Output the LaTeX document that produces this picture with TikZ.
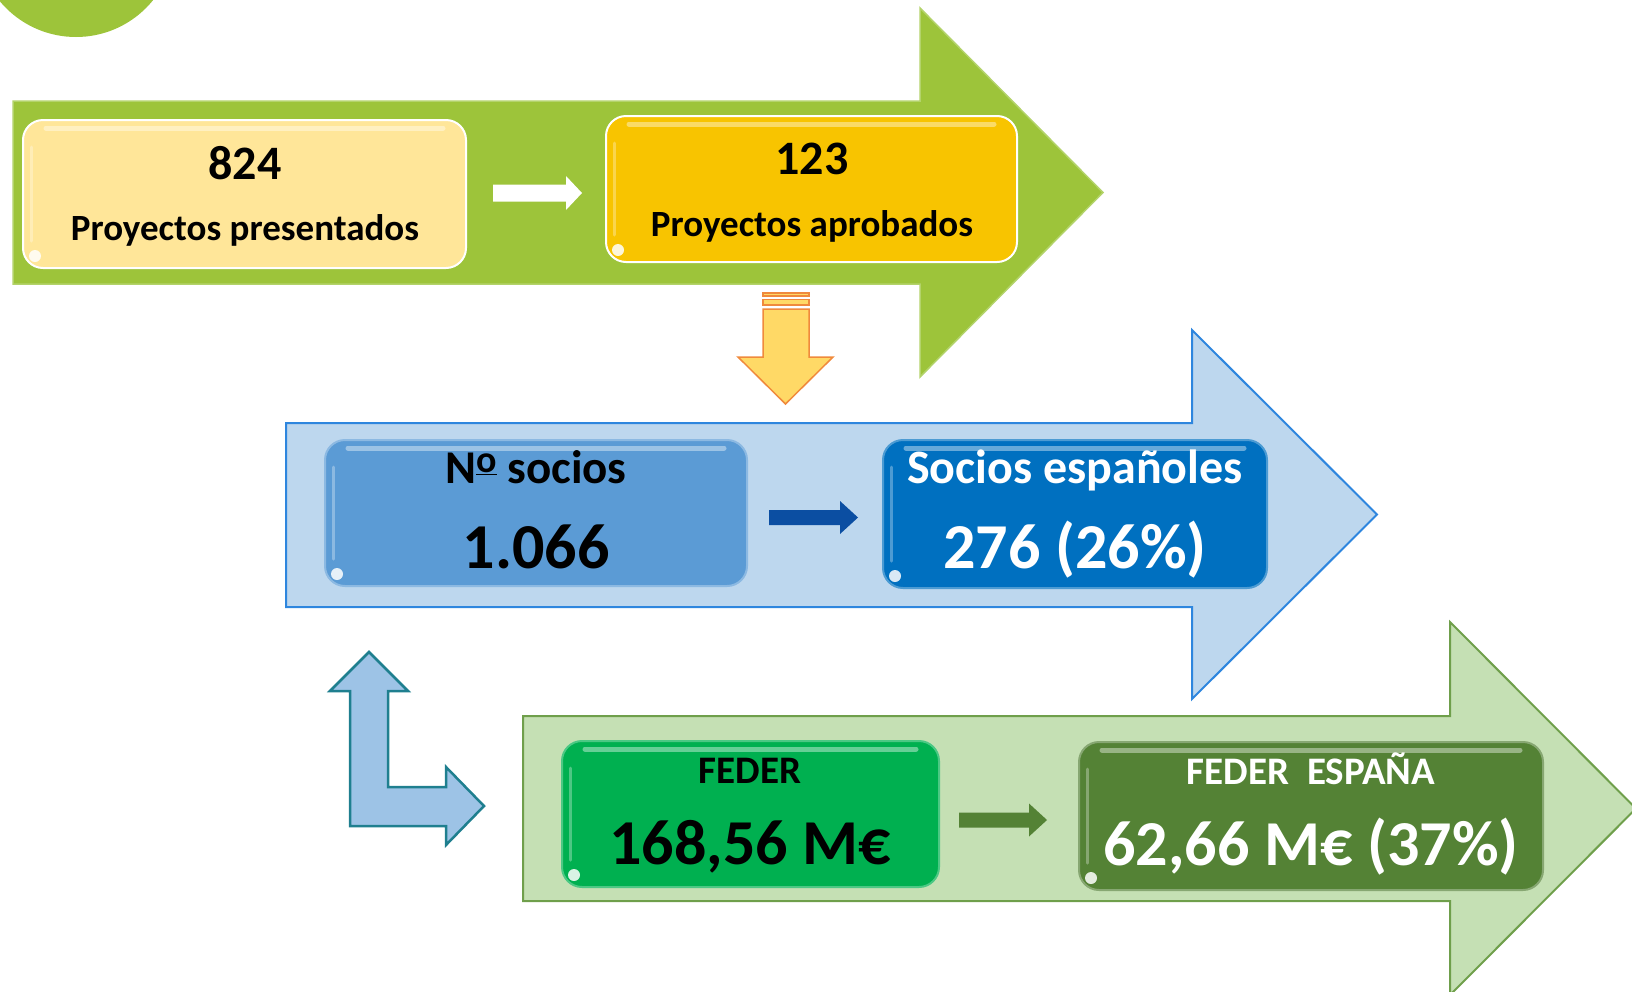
\documentclass[tikz,border=0pt]{standalone}
\usepackage{fontspec}
\setmainfont{Carlito}
\usetikzlibrary{calc}
\definecolor{topgreen}{HTML}{9DC43A}
\definecolor{topgreenedge}{HTML}{B3D36A}
\definecolor{midblue}{HTML}{BDD7EE}
\definecolor{midblueedge}{HTML}{2E86DE}
\definecolor{botgreen}{HTML}{C5E0B4}
\definecolor{botgreenedge}{HTML}{6F9F4B}
\definecolor{lblue}{HTML}{9DC3E6}
\definecolor{tealc}{HTML}{1F7F8F}
\definecolor{orfill}{HTML}{FFD966}
\definecolor{oredge}{HTML}{F08A3C}
\definecolor{pale}{HTML}{FFE699}
\definecolor{gold}{HTML}{F8C400}
\definecolor{sblue}{HTML}{5B9BD5}
\definecolor{dblue}{HTML}{0070C0}
\definecolor{navy}{HTML}{0B4EA2}
\definecolor{fgreen}{HTML}{00B050}
\definecolor{dgreen}{HTML}{548235}
\newcommand\shine[1]{%
  \draw[white, opacity=.4, line width=5pt, line cap=round] ($(#1.north west)+(24,9)$) -- ($(#1.north east)+(-24,9)$);
  \draw[white, opacity=.3, line width=3pt, line cap=round] ($(#1.north west)+(9,28)$) -- ($(#1.south west)+(9,-28)$);
  \fill[white, opacity=.85] ($(#1.south west)+(13,-13)$) circle (6pt);
}
\newcommand\ordo{\raisebox{0.22em}{\fontsize{38}{38}\selectfont\underline{o}}}
\begin{document}
\begin{tikzpicture}[x=1pt,y=-1pt,
  box/.style={rounded corners=20pt, line width=2pt, inner sep=0pt},
  bigtxt/.style={anchor=base, font=\bfseries\fontsize{#1}{#1}\selectfont},
  bigarrow/.style={line width=2pt, line join=miter}]
\useasboundingbox (0,0) rectangle (1632,991);
\clip (0,0) rectangle (1632,991);

% corner circle
\fill[topgreen] (76,-62) circle (99pt);

% big arrows
\filldraw[bigarrow, fill=topgreen, draw=topgreenedge, line width=1.5pt]
  (13,101) -- (920,101) -- (920,8) -- (1103,192.5) -- (920,377) -- (920,284) -- (13,284) -- cycle;
\filldraw[bigarrow, fill=midblue, draw=midblueedge]
  (286,423) -- (1192,423) -- (1192,330) -- (1377,514.5) -- (1192,699) -- (1192,607) -- (286,607) -- cycle;
\filldraw[bigarrow, fill=botgreen, draw=botgreenedge]
  (523,716) -- (1450,716) -- (1450,622) -- (1636,808.5) -- (1450,995) -- (1450,901) -- (523,901) -- cycle;

% boxes
\node[box, fill=pale, draw=white, minimum width=443pt, minimum height=148pt] (b824) at (244.5,194) {};
\node[box, fill=gold, draw=white, minimum width=411pt, minimum height=146pt] (b123) at (811.5,189) {};
\node[box, fill=sblue, draw=sblue!70!white, minimum width=422pt, minimum height=146pt] (bN) at (536,513) {};
\node[box, fill=dblue, draw=dblue!70!white, minimum width=384pt, minimum height=148pt] (bS) at (1075,514) {};
\node[box, fill=fgreen, draw=fgreen!70!white, minimum width=377pt, minimum height=146pt] (bF) at (750.5,814) {};
\node[box, fill=dgreen, draw=dgreen!70!white, minimum width=464pt, minimum height=148pt] (bE) at (1311,816) {};
\shine{b824}\shine{b123}\shine{bN}\shine{bS}\shine{bF}\shine{bE}

% texts
\node[bigtxt=48] (t824) at (245,179) {824};
\node[bigtxt=37] (p824) at (245,240) {Proyectos presentados};
\node[bigtxt=48] (t123) at (812,174) {123};
\node[bigtxt=37] (p123) at (812,236) {Proyectos aprobados};
\node[bigtxt=47] (tN) at (536,483) {N\ordo\ socios};
\node[bigtxt=64] (vN) at (536,568) {1.066};
\node[bigtxt=48, text=white] (tS) at (1075,483) {Socios españoles};
\node[bigtxt=64, text=white] (vS) at (1075,568) {276 (26\%)};
\node[bigtxt=39] (tF) at (750,783) {FEDER};
\node[bigtxt=64] (vF) at (750,864) {168,56 M€};
\node[bigtxt=39, text=white] (tE) at (1311,784) {FEDER\ \ ESPAÑA};
\node[bigtxt=64, text=white] (vE) at (1311,865) {62,66 M€ (37\%)};

% small block arrows between boxes
\coordinate (w1) at ($(b824.east)+(26,-1)$);
\coordinate (w2) at ($(b123.west|-w1)+(-23,0)$);
\fill[white] ($(w1)+(0,-8.5)$) -- ($(w2)+(-16,-8.5)$) -- ($(w2)+(-16,-17)$) -- (w2) -- ($(w2)+(-16,17)$) -- ($(w2)+(-16,8.5)$) -- ($(w1)+(0,8.5)$) -- cycle;
\coordinate (n1) at ($(bN.east)+(21,4.5)$);
\coordinate (n2) at ($(bS.west|-n1)+(-24,0)$);
\fill[navy] ($(n1)+(0,-7.5)$) -- ($(n2)+(-18,-7.5)$) -- ($(n2)+(-18,-16.5)$) -- (n2) -- ($(n2)+(-18,16.5)$) -- ($(n2)+(-18,7.5)$) -- ($(n1)+(0,7.5)$) -- cycle;
\coordinate (g1) at ($(bF.east)+(19,6)$);
\coordinate (g2) at ($(bE.west|-g1)+(-31,0)$);
\fill[dgreen] ($(g1)+(0,-7.5)$) -- ($(g2)+(-18,-7.5)$) -- ($(g2)+(-18,-16.5)$) -- (g2) -- ($(g2)+(-18,16.5)$) -- ($(g2)+(-18,7.5)$) -- ($(g1)+(0,7.5)$) -- cycle;

% orange striped down arrow
\begin{scope}[fill=orfill, draw=oredge, line width=1.5pt]
\filldraw (763,293) rectangle (809,296);
\filldraw (763,299.5) rectangle (809,305);
\filldraw[line join=miter] (763,309) -- (809,309) -- (809,357) -- (833,357) -- (785.5,404) -- (738,357) -- (763,357) -- cycle;
\end{scope}

% bent arrow
\filldraw[bigarrow, fill=lblue, draw=tealc, line width=2.5pt]
  (369,652) -- (408,691) -- (388,691) -- (388,787) -- (446,787) -- (446,767) -- (484,806) -- (446,845) -- (446,826) -- (350,826) -- (350,691) -- (330,691) -- cycle;
\end{tikzpicture}
\end{document}
